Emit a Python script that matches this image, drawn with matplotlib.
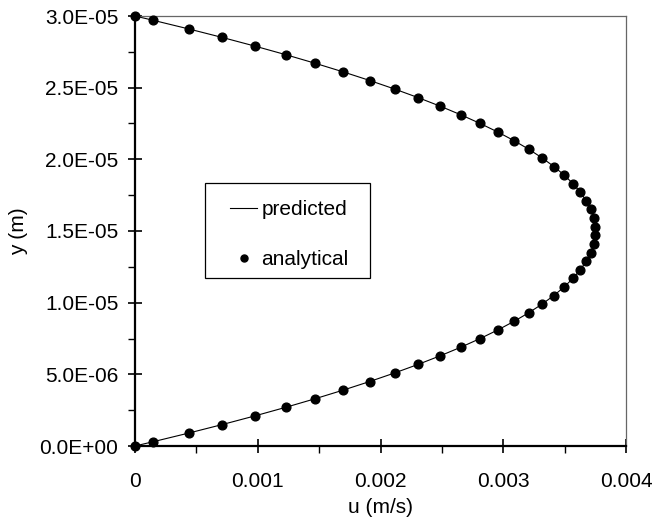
import matplotlib
matplotlib.use("Agg")
import matplotlib.pyplot as plt
from matplotlib.ticker import MultipleLocator, FuncFormatter
from matplotlib.patches import Rectangle

plt.rcParams['font.family'] = ['Liberation Sans', 'DejaVu Sans']

y_m = [0.0, 3e-7, 9e-7, 1.5e-6, 2.1e-6, 2.7e-6, 3.3e-6, 3.9e-6, 4.5e-6, 5.1e-6, 5.7e-6,
       6.3e-6, 6.9e-6, 7.5e-6, 8.1e-6, 8.7e-6, 9.3e-6, 9.9e-6, 1.05e-5, 1.11e-5, 1.17e-5,
       1.23e-5, 1.29e-5, 1.35e-5, 1.41e-5, 1.47e-5, 1.53e-5, 1.59e-5, 1.65e-5, 1.71e-5,
       1.77e-5, 1.83e-5, 1.89e-5, 1.95e-5, 2.01e-5, 2.07e-5, 2.13e-5, 2.19e-5, 2.25e-5,
       2.31e-5, 2.37e-5, 2.43e-5, 2.49e-5, 2.55e-5, 2.61e-5, 2.67e-5, 2.73e-5, 2.79e-5,
       2.85e-5, 2.91e-5, 2.97e-5, 3.0e-5]

u_half = [0.0, 0.0001485, 0.0004365, 0.0007125, 0.0009765, 0.0012285, 0.0014685,
          0.0016965, 0.0019125, 0.0021165, 0.0023085, 0.0024885, 0.0026565, 0.0028125,
          0.0029565, 0.0030885, 0.0032085, 0.0033165, 0.0034125, 0.0034965, 0.0035685,
          0.0036285, 0.0036765, 0.0037125, 0.0037365, 0.0037485]
u_analytical = u_half + u_half[::-1]
u_predicted = list(u_analytical)

x_ticks = [0, 0.001, 0.002, 0.003, 0.004]
y_ticks = [0, 5e-6, 1e-5, 1.5e-5, 2e-5, 2.5e-5, 3e-5]

FS = 15

fig = plt.figure(figsize=(6.54, 5.28), dpi=100)
ax = fig.add_axes([135/654, 1 - 446/528, 491/654, 430/528])

ax.plot(u_predicted, y_m, color='black', lw=0.8, label='predicted', zorder=2)
ax.plot(u_analytical, y_m, linestyle='none', marker='o', ms=6.3, color='black',
        label='analytical', clip_on=False, zorder=3)

ax.set_xlim(0, 0.004)
ax.set_ylim(0, 3e-5)
ax.set_xticks(x_ticks)
ax.set_yticks(y_ticks)
ax.xaxis.set_minor_locator(MultipleLocator(0.0005))
ax.yaxis.set_minor_locator(MultipleLocator(2.5e-6))
ax.xaxis.set_major_formatter(FuncFormatter(lambda v, p: "0" if abs(v) < 1e-12 else f"{v:g}"))
ax.yaxis.set_major_formatter(FuncFormatter(lambda v, p: f"{v:.1E}"))

ax.tick_params(which='major', direction='inout', length=10, width=1.2, labelsize=FS)
ax.tick_params(which='minor', direction='out', length=5, width=1.0)
ax.tick_params(axis='y', which='major', pad=7)
ax.tick_params(axis='x', which='major', pad=14)

for s in ['left', 'bottom']:
    ax.spines[s].set_linewidth(1.6)
    ax.spines[s].set_color('black')
for s in ['top', 'right']:
    ax.spines[s].set_linewidth(0.9)
    ax.spines[s].set_color('#666666')

ax.set_xlabel('u (m/s)', fontsize=FS, labelpad=5)
ax.set_ylabel('y (m)', fontsize=FS, labelpad=8)

# legend frame drawn separately to match its proportions
ax.add_patch(Rectangle((70/491, 168/430), 165/491, 95/430, transform=ax.transAxes,
                       facecolor='white', edgecolor='black', lw=0.9, zorder=4))
leg = ax.legend(loc='upper left', bbox_to_anchor=(95/491, 246/430), borderaxespad=0,
                fontsize=FS, frameon=False,
                handlelength=1.3, handletextpad=0.2, labelspacing=1.5,
                borderpad=0.0, markerscale=0.8)
leg.set_zorder(5)

fig.savefig('out.png', dpi=100)
